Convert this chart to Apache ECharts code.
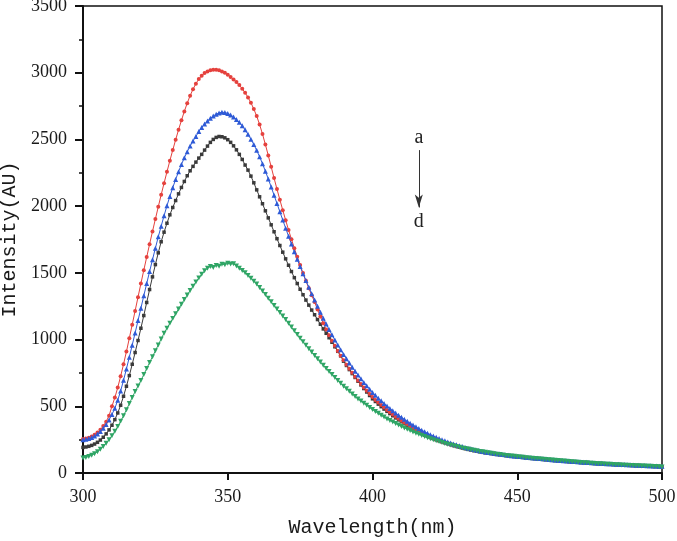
<!DOCTYPE html>
<html>
<head>
<meta charset="utf-8">
<script src="https://cdn.jsdelivr.net/npm/echarts@6/dist/echarts.min.js"></script>
<style>
html,body{margin:0;padding:0;background:#fff;}
#chart{width:677px;height:541px;}
</style>
</head>
<body>
<div id="chart"></div>
<script>
// Wavelength axis: 300 nm to 500 nm, one sample per nm
const wlStart = 300;
const wlStep = 1;
const xTicks = [300, 350, 400, 450, 500];
const yTicks = [0, 500, 1000, 1500, 2000, 2500, 3000, 3500];

// a (red)
const seriesA = [
  255,258,264,273,286,303,325,352,385,430,
  500,565,640,725,815,910,1010,1112,1215,1318,
  1420,1520,1618,1715,1810,1903,1995,2085,2172,2257,
  2340,2420,2497,2572,2643,2710,2772,2828,2876,2918,
  2952,2978,2997,3010,3018,3022,3022,3018,3010,2999,
  2985,2968,2950,2930,2907,2880,2850,2815,2775,2728,
  2675,2612,2540,2462,2380,2295,2210,2128,2048,1970,
  1895,1822,1752,1685,1620,1558,1498,1440,1385,1332,
  1281,1226,1173,1123,1076,1033,992,953,915,879,
  845,812,781,751,722,694,667,641,616,592,
  569,548,528,509,490,472,455,438,422,406,
  391,377,363,350,337,325,313,302,291,281,
  271,262,253,245,237,230,223,216,209,203,
  197,191,186,181,176,171,167,163,159,155,
  152,149,146,143,140,137,134,131,128,126,
  124,121,119,117,114,112,110,108,106,104,
  102,100,98,96,94,92,90,89,87,85,
  84,82,81,79,78,76,75,73,72,71,
  69,68,67,66,64,63,62,61,60,59,
  58,57,56,55,54,53,52,51,50,49,
  48
];
// b (blue)
const seriesB = [
  250,253,258,266,277,292,311,335,364,398,
  438,485,545,615,695,780,868,958,1050,1142,
  1235,1328,1420,1510,1598,1685,1770,1850,1928,2003,
  2073,2138,2200,2258,2312,2362,2408,2450,2488,2522,
  2560,2590,2615,2638,2658,2675,2689,2699,2704,2702,
  2695,2684,2668,2650,2628,2602,2572,2538,2502,2462,
  2418,2370,2318,2262,2204,2144,2082,2020,1958,1896,
  1835,1775,1716,1658,1602,1547,1494,1442,1392,1344,
  1297,1250,1204,1160,1117,1076,1036,997,960,924,
  889,856,824,793,763,734,706,679,653,628,
  604,582,561,541,521,502,484,466,449,433,
  417,402,387,373,359,346,333,321,309,298,
  287,277,267,258,249,241,233,225,218,211,
  204,198,192,186,181,176,171,166,162,158,
  154,151,148,145,142,139,136,133,130,128,
  126,123,121,118,116,114,112,110,108,106,
  104,102,100,98,96,94,92,91,89,87,
  86,84,83,81,80,78,77,75,74,73,
  71,70,69,68,66,65,64,63,62,61,
  60,59,58,57,56,55,54,53,52,51,
  50
];
// c (black)
const seriesC = [
  192,195,200,207,217,230,247,268,293,323,
  358,400,450,508,575,650,730,815,903,993,
  1085,1180,1278,1375,1470,1562,1650,1733,1805,1872,
  1935,1990,2042,2092,2140,2185,2228,2265,2298,2330,
  2360,2388,2420,2450,2478,2500,2515,2522,2520,2512,
  2498,2478,2452,2422,2388,2350,2308,2270,2225,2175,
  2122,2070,2018,1965,1912,1860,1808,1756,1705,1655,
  1605,1557,1510,1464,1420,1377,1336,1296,1258,1221,
  1186,1150,1115,1080,1047,1014,980,946,912,878,
  838,806,775,745,716,688,660,633,607,581,
  556,536,516,497,479,462,445,429,413,398,
  384,370,357,344,331,319,308,297,286,276,
  267,258,249,241,233,226,219,212,205,199,
  193,187,182,177,172,167,163,159,155,151,
  148,145,142,139,136,133,130,128,125,123,
  121,118,116,114,111,109,107,105,103,101,
  99,97,95,93,91,89,88,86,84,83,
  81,80,78,77,75,74,72,71,70,68,
  67,66,65,64,62,61,60,59,58,57,
  56,55,54,53,52,51,50,49,48,47,
  46
];
// d (green)
const seriesD = [
  112,117,124,133,145,160,178,199,223,250,
  280,313,349,388,430,474,520,566,610,652,
  693,738,783,828,872,916,960,1005,1048,1085,
  1122,1158,1194,1230,1265,1300,1334,1368,1400,1432,
  1462,1490,1515,1535,1548,1540,1556,1550,1565,1560,
  1572,1566,1568,1552,1534,1518,1500,1480,1460,1438,
  1416,1390,1364,1337,1310,1283,1256,1229,1202,1176,
  1150,1122,1094,1066,1038,1010,984,958,932,906,
  880,856,832,808,784,760,738,716,694,672,
  650,631,612,593,574,555,539,523,507,491,
  475,461,447,433,419,405,394,382,371,359,
  348,338,328,318,308,298,290,281,273,264,
  256,249,242,236,229,222,216,210,205,199,
  193,188,184,179,175,170,166,162,159,155,
  151,148,145,141,138,135,132,130,127,125,
  122,120,118,115,113,111,109,107,105,103,
  101,99,97,95,93,91,89,88,86,84,
  82,80,79,77,76,74,73,71,70,69,
  67,66,65,64,62,61,60,59,58,57,
  56,55,54,53,52,51,50,49,48,47,
  45
];

function toPairs(arr){ return arr.map((v,i)=>[wlStart + i*wlStep, v]); }

const chart = echarts.init(document.getElementById('chart'), null, {renderer:'canvas'});
const tickFont = {fontFamily:'Liberation Serif', fontSize:18, color:'#1a1a1a'};
const nameFont = {fontFamily:'Liberation Mono', fontSize:20, color:'#1a1a1a'};

function mk(name, data, color, symbol, size, rotate){
  return {
    name, type:'line', data: toPairs(data),
    symbol, symbolSize:size, symbolRotate: rotate||0,
    showSymbol:true, animation:false,
    lineStyle:{color, width:1},
    itemStyle:{color},
    z: 2
  };
}

const series = [
  mk('c', seriesC, '#3a3a3a', 'rect', 3.5),
  mk('a', seriesA, '#e5413d', 'circle', 4),
  mk('b', seriesB, '#2e5ad6', 'triangle', 5),
  mk('d', seriesD, '#2fa565', 'triangle', 5, 180)
];
// annotation arrow a -> d
series[0].markLine = {
  silent:true, animation:false,
  symbol:['none','arrow'], symbolSize:[6,13],
  lineStyle:{color:'#333', width:1, type:'solid'},
  label:{show:false},
  data:[[{coord:[416, 2420]},{coord:[416, 1990]}]]
};
series[0].markPoint = {
  silent:true, animation:false, symbol:'circle', symbolSize:1,
  itemStyle:{color:'rgba(0,0,0,0)'},
  label:{show:true, position:'inside', fontFamily:'Liberation Serif', fontSize:20, color:'#222', formatter:p=>p.name},
  data:[{name:'a', coord:[416, 2510]},{name:'d', coord:[416, 1885]}]
};

chart.setOption({
  backgroundColor:'#fff',
  animation:false,
  grid:{left:83, right:15, top:6, bottom:68, show:true, borderColor:'#111', borderWidth:1.5, containLabel:false, outerBoundsMode:'none'},
  xAxis:{
    type:'value', min:300, max:500, interval:50,
    name:'Wavelength(nm)', nameLocation:'middle', nameGap:45, nameTextStyle:nameFont,
    axisLine:{show:true, onZero:false, lineStyle:{color:'#111', width:2}},
    axisTick:{show:true, length:7, lineStyle:{color:'#111', width:2}},
    minorTick:{show:false},
    splitLine:{show:false},
    axisLabel:{...tickFont, margin:15, formatter: v => String(v)},
    axisPointer:{show:false}
  },
  yAxis:{
    type:'value', min:0, max:3500, interval:500,
    name:'Intensity(AU)', nameLocation:'middle', nameGap:59, nameTextStyle:nameFont,
    axisLine:{show:true, lineStyle:{color:'#111', width:2}},
    axisTick:{show:true, length:8, lineStyle:{color:'#111', width:2}},
    minorTick:{show:true, splitNumber:2, length:4, lineStyle:{color:'#111', width:1.5}},
    splitLine:{show:false},
    axisLabel:{...tickFont, margin:16, formatter: v => String(v)}
  },
  series
});
</script>
</body>
</html>
